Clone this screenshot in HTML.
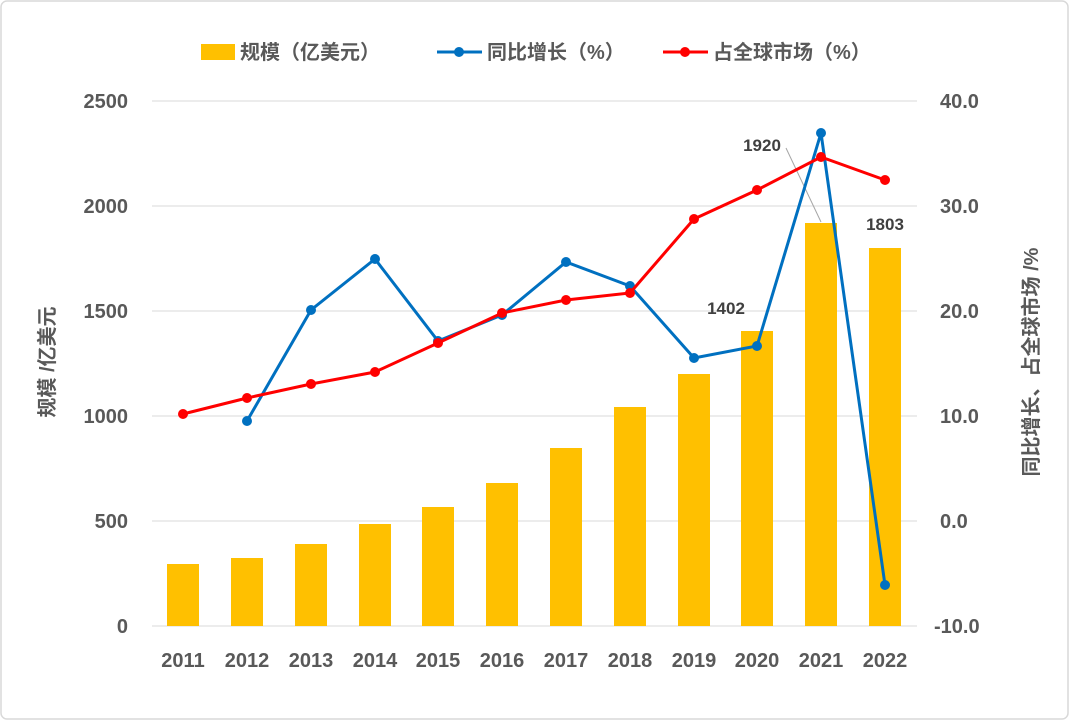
<!DOCTYPE html>
<html><head><meta charset="utf-8"><style>
body{margin:0;background:#fff;}
svg{display:block;font-family:"Liberation Sans","Noto Sans CJK SC",sans-serif;}
</style></head><body>
<svg width="1069" height="720" viewBox="0 0 1069 720">
<rect x="1" y="1" width="1067" height="718" rx="6" fill="#fff" stroke="#d9d9d9" stroke-width="1.5"/>
<g stroke="#d9d9d9" stroke-width="1">
<line x1="152" y1="101" x2="917" y2="101"/><line x1="152" y1="206" x2="917" y2="206"/>
<line x1="152" y1="311" x2="917" y2="311"/><line x1="152" y1="416" x2="917" y2="416"/>
<line x1="152" y1="521" x2="917" y2="521"/><line x1="152" y1="626" x2="917" y2="626"/>
</g>
<g fill="#FFC000">
<rect x="167" y="564" width="32" height="62"/><rect x="231" y="558" width="32" height="68"/>
<rect x="295" y="544" width="32" height="82"/><rect x="359" y="524" width="32" height="102"/>
<rect x="422" y="507" width="32" height="119"/><rect x="486" y="483" width="32" height="143"/>
<rect x="550" y="448" width="32" height="178"/><rect x="614" y="407" width="32" height="219"/>
<rect x="678" y="374" width="32" height="252"/><rect x="741" y="331" width="32" height="295"/>
<rect x="805" y="223" width="32" height="403"/><rect x="869" y="248" width="32" height="378"/>
</g>
<line x1="786" y1="148" x2="821" y2="222" stroke="#a6a6a6" stroke-width="1"/>
<polyline fill="none" stroke="#0070C0" stroke-width="3" points="247,421 311,310 375,259 438,341 502,315 566,262 630,286 694,358 757,346 821,133 885,585"/>
<g fill="#0070C0">
<circle cx="247" cy="421" r="5"/><circle cx="311" cy="310" r="5"/><circle cx="375" cy="259" r="5"/><circle cx="438" cy="341" r="5"/><circle cx="502" cy="315" r="5"/><circle cx="566" cy="262" r="5"/><circle cx="630" cy="286" r="5"/><circle cx="694" cy="358" r="5"/><circle cx="757" cy="346" r="5"/><circle cx="821" cy="133" r="5"/><circle cx="885" cy="585" r="5"/>
</g>
<polyline fill="none" stroke="#FF0000" stroke-width="3" points="183,414 247,398 311,384 375,372 438,343 502,313 566,300 630,293 694,219 757,190 821,157 885,180"/>
<g fill="#FF0000">
<circle cx="183" cy="414" r="5"/><circle cx="247" cy="398" r="5"/><circle cx="311" cy="384" r="5"/><circle cx="375" cy="372" r="5"/><circle cx="438" cy="343" r="5"/><circle cx="502" cy="313" r="5"/><circle cx="566" cy="300" r="5"/><circle cx="630" cy="293" r="5"/><circle cx="694" cy="219" r="5"/><circle cx="757" cy="190" r="5"/><circle cx="821" cy="157" r="5"/><circle cx="885" cy="180" r="5"/>
</g>
<g fill="#404040" font-weight="bold" font-size="17" text-anchor="middle">
<text x="762" y="151">1920</text><text x="885" y="230">1803</text><text x="726" y="314">1402</text>
</g>
<g fill="#595959" font-weight="bold" font-size="20" text-anchor="end">
<text x="128" y="108">2500</text><text x="128" y="213">2000</text><text x="128" y="318">1500</text>
<text x="128" y="423">1000</text><text x="128" y="528">500</text><text x="128" y="633">0</text>
</g>
<g fill="#595959" font-weight="bold" font-size="20" text-anchor="start">
<text x="940" y="108">40.0</text><text x="940" y="213">30.0</text><text x="940" y="318">20.0</text>
<text x="940" y="423">10.0</text><text x="940" y="528">0.0</text><text x="934" y="633">-10.0</text>
</g>
<g fill="#595959" font-weight="bold" font-size="20" text-anchor="middle">
<text x="183" y="667">2011</text><text x="247" y="667">2012</text><text x="311" y="667">2013</text><text x="375" y="667">2014</text><text x="438" y="667">2015</text><text x="502" y="667">2016</text><text x="566" y="667">2017</text><text x="630" y="667">2018</text><text x="694" y="667">2019</text><text x="757" y="667">2020</text><text x="821" y="667">2021</text><text x="885" y="667">2022</text>
</g>
<text transform="translate(54,362) rotate(-90)" fill="#595959" font-weight="bold" font-size="20" text-anchor="middle">规模 /亿美元</text>
<text transform="translate(1038,362) rotate(-90)" fill="#595959" font-weight="bold" font-size="20" text-anchor="middle">同比增长、占全球市场 /%</text>
<rect x="201" y="44" width="34" height="16" fill="#FFC000"/>
<text x="240" y="59" fill="#595959" font-weight="bold" font-size="20">规模（亿美元）</text>
<line x1="437" y1="52" x2="482" y2="52" stroke="#0070C0" stroke-width="3"/><circle cx="459" cy="52" r="5" fill="#0070C0"/>
<text x="487" y="59" fill="#595959" font-weight="bold" font-size="20">同比增长（%）</text>
<line x1="663" y1="52" x2="708" y2="52" stroke="#FF0000" stroke-width="3"/><circle cx="685" cy="52" r="5" fill="#FF0000"/>
<text x="713" y="59" fill="#595959" font-weight="bold" font-size="20">占全球市场（%）</text>
</svg>
</body></html>
